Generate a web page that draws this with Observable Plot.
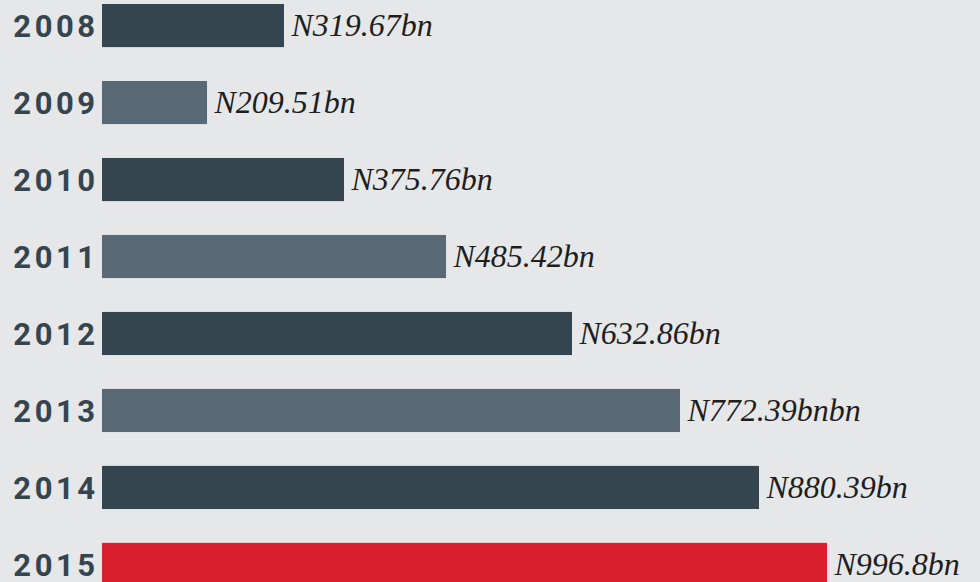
<!DOCTYPE html>
<html>
<head>
<meta charset="utf-8">
<script src="https://cdn.jsdelivr.net/npm/d3@7"></script>
<script src="https://cdn.jsdelivr.net/npm/@observablehq/plot@0.6"></script>
<style>
  html, body { margin: 0; padding: 0; background: #e6e7e9; overflow: hidden; }
  #chart svg { display: block; }
</style>
</head>
<body>
<div id="chart"></div>
<script>
// Categories
const years = ["2008", "2009", "2010", "2011", "2012", "2013", "2014", "2015"];
// Bar lengths as drawn in the picture (relative units, 2015 = 996.8)
const barLength = [250.2, 144.4, 332.7, 473.0, 646.2, 794.7, 903.3, 996.8];
// Value labels as printed
const valueLabels = ["N319.67bn", "N209.51bn", "N375.76bn", "N485.42bn", "N632.86bn", "N772.39bnbn", "N880.39bn", "N996.8bn"];
const highlightYear = "2015";

const data = years.map((y, i) => ({year: y, len: barLength[i], label: valueLabels[i], i}));

const DARK = "#344550", LIGHT = "#586874", RED = "#d91f2d";
const barFill = d => d.year === highlightYear ? RED : (d.i % 2 === 0 ? DARK : LIGHT);

const chart = Plot.plot({
  width: 980,
  height: 582,
  marginLeft: 0, marginRight: 0, marginTop: 0, marginBottom: 0,
  style: {background: "#e6e7e9", overflow: "hidden"},
  x: {domain: [0, 996.8], range: [102, 827], axis: null},
  y: {domain: years, range: [4, 586], paddingInner: 0.44, paddingOuter: 0, round: false, axis: null},
  marks: [
    Plot.barX(data, {x1: 0, x2: "len", y: "year", fill: barFill}),
    Plot.text(data, {
      y: "year", text: "year", frameAnchor: "left", dx: 98, dy: 1,
      textAnchor: "end", fill: "#34454f",
      fontFamily: "Roboto", fontWeight: "bold", fontSize: 31
    }),
    Plot.text(data, {
      x: "len", y: "year", text: "label", dx: 7, dy: 0,
      textAnchor: "start", fill: "#1e1e1e",
      fontFamily: "Liberation Serif", fontStyle: "italic", fontSize: 32
    })
  ]
});
const textGroups = chart.querySelectorAll("g[aria-label='text']");
if (textGroups.length) {
  textGroups[0].setAttribute("letter-spacing", "3.5px");
  textGroups[0].style.letterSpacing = "3.5px";
}
document.getElementById("chart").appendChild(chart);
</script>
</body>
</html>
